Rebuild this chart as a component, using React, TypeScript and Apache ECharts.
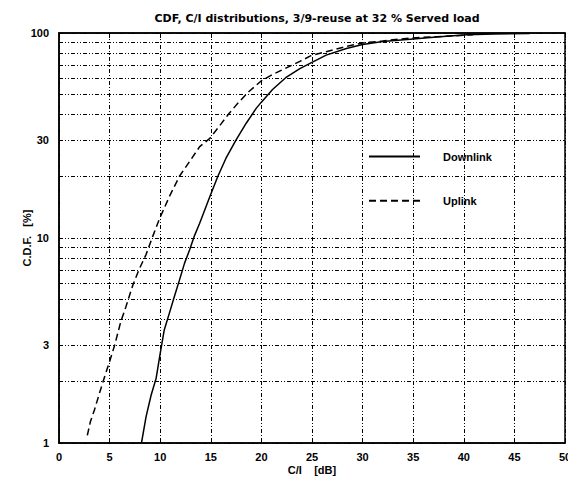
import React, { useEffect, useRef } from "react";
import * as echarts from "echarts";

const downlinkCI = [8.15, 8.6, 9.1, 9.6, 10.0, 10.4, 10.9, 11.4, 11.9, 12.4, 12.9, 13.4, 13.9, 14.9, 15.7, 16.5, 17.5, 18.5, 19.5, 20.0, 21.1, 22.4, 23.8, 24.9, 26.4, 28.4, 30.0, 32.0, 34.7, 37.3, 40.3, 43.0, 46.5];
const downlinkCDF = [1.0, 1.34, 1.71, 2.07, 2.74, 3.56, 4.29, 5.18, 6.23, 7.52, 8.74, 10.3, 11.8, 15.9, 20, 24.5, 30.1, 36.3, 43, 46, 53, 60.5, 67, 71.5, 78, 84, 87.8, 90.9, 93.3, 95.5, 98, 99, 99.5];

const uplinkCI = [2.8, 3.1, 3.5, 4.0, 4.5, 5.0, 5.5, 6.1, 6.6, 7.3, 7.9, 8.6, 9.3, 9.9, 10.9, 11.9, 12.9, 13.9, 14.9, 15.8, 16.8, 17.8, 18.8, 20.0, 21.1, 22.3, 23.8, 24.9, 26.4, 28.4, 30.0, 32.0, 34.7, 37.3, 40.9];
const uplinkCDF = [1.09, 1.27, 1.45, 1.75, 2.1, 2.5, 3.0, 3.9, 4.6, 5.9, 7.0, 8.3, 10.3, 12.3, 15.9, 20, 23.6, 27.9, 30.6, 34.9, 40.5, 46.2, 52, 58.5, 62.7, 67, 72.7, 77.5, 81, 86, 89.4, 91.5, 94.5, 96, 98];

const yLabelValues = [1, 3, 10, 30, 100];
const yGridValues = [1, 2, 3, 4, 5, 6, 7, 8, 9, 10, 20, 30, 40, 50, 60, 70, 80, 90, 100];

const seriesNames = ["Downlink", "Uplink"];
const titleText = "CDF, C/I distributions, 3/9-reuse at 32 % Served load";
const xName = "C/I    [dB]";
const yName = "C.D.F.   [%]";

const FONT = "'Liberation Sans', Arial, sans-serif";
const TITLE_FONT = "'DejaVu Sans', 'Liberation Sans', sans-serif";
const gridDash = [4, 2, 1, 2, 1, 2];

export default function App() {
  const ref = useRef<HTMLDivElement>(null);
  useEffect(() => {
    const chart = echarts.init(ref.current!, null, { renderer: "svg" });
    const textStyle = { color: "#000", fontSize: 11, fontWeight: "bold" as const, fontFamily: FONT };
    chart.setOption({
      animation: false,
      backgroundColor: "#fff",
      textStyle: { fontFamily: FONT },
      title: {
        text: titleText,
        left: 312,
        textAlign: "center",
        top: 8,
        textStyle: { ...textStyle, fontFamily: TITLE_FONT },
      },
      grid: {
        left: 59,
        right: 3,
        top: 33,
        bottom: 36,
        containLabel: false,
        outerBoundsMode: "none",
        show: true,
        borderColor: "#000",
        borderWidth: 1.5,
        backgroundColor: "transparent",
      },
      legend: {
        data: seriesNames,
        orient: "vertical",
        left: 363,
        top: 146,
        itemWidth: 51,
        itemHeight: 14,
        itemGap: 33,
        itemStyle: { opacity: 0 },
        textStyle: { ...textStyle, padding: [0, 0, 0, 18] },
      },
      xAxis: [
        {
          type: "value",
          min: 0,
          max: 50,
          interval: 5,
          name: xName,
          nameLocation: "middle",
          nameGap: 21,
          nameMoveOverlap: false,
          nameTextStyle: { ...textStyle },
          axisLine: { lineStyle: { color: "#000", width: 1.5 } },
          axisTick: { inside: true, length: 5, lineStyle: { color: "#000" } },
          axisLabel: { ...textStyle, margin: 8, showMinLabel: true, showMaxLabel: true, hideOverlap: false },
          splitLine: { show: true, lineStyle: { color: "#000", width: 1, type: gridDash } },
        },
        {
          type: "value",
          position: "top",
          min: 0,
          max: 50,
          interval: 5,
          axisLine: { lineStyle: { color: "#000", width: 1.5 } },
          axisTick: { inside: true, length: 5, lineStyle: { color: "#000" } },
          axisLabel: { show: false },
          splitLine: { show: false },
        },
      ],
      yAxis: {
        type: "log",
        logBase: 10,
        min: 1,
        max: 100,
        name: yName,
        nameLocation: "middle",
        nameGap: 27,
        nameMoveOverlap: false,
        nameTextStyle: { ...textStyle },
        axisLine: { lineStyle: { color: "#000", width: 1.5 } },
        axisTick: { show: false, customValues: yGridValues },
        axisLabel: { ...textStyle, margin: 10, customValues: yLabelValues },
        splitLine: { show: true, lineStyle: { color: "#000", width: 1, type: gridDash } },
      },
      series: [
        {
          name: seriesNames[0],
          type: "line",
          xAxisIndex: 0,
          symbol: "none",
          showSymbol: false,
          lineStyle: { color: "#000", width: 1.5, type: "solid" },
          itemStyle: { color: "#000" },
          data: downlinkCI.map((c, i) => [c, downlinkCDF[i]]),
        },
        {
          name: seriesNames[1],
          type: "line",
          xAxisIndex: 0,
          symbol: "none",
          showSymbol: false,
          lineStyle: { color: "#000", width: 1.5, type: [7, 4] },
          itemStyle: { color: "#000" },
          data: uplinkCI.map((c, i) => [c, uplinkCDF[i]]),
        },
      ],
    });
    return () => chart.dispose();
  }, []);
  return <div ref={ref} style={{ position: "fixed", left: 0, top: 0, width: 568, height: 479 }} />;
}
